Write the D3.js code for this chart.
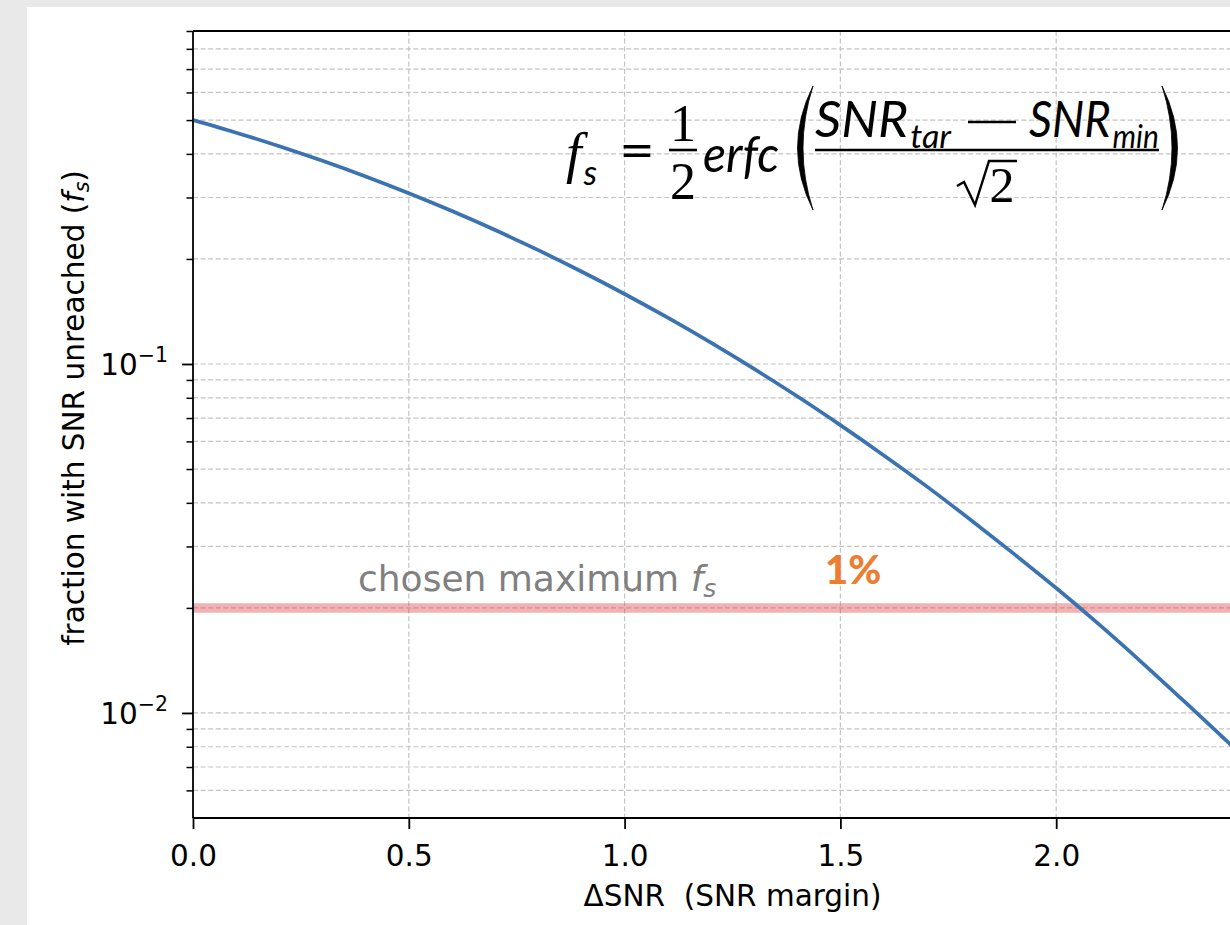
<!DOCTYPE html>
<html><head><meta charset="utf-8">
<script src="https://cdn.jsdelivr.net/npm/d3@7"></script>
<style>body{margin:0;background:#e9e9e9;} svg{display:block;}</style>
</head><body><svg id="c" width="1230" height="925"></svg>
<script>
// ---- data ----
const deltaSNR = [0.0,0.1,0.2,0.3,0.4,0.5,0.6,0.7,0.8,0.9,1.0,1.1,1.2,1.3,1.4,1.5,1.6,1.7,1.8,1.9,2.0,2.1,2.2,2.3,2.4,2.5];
const fsValues = [0.5,0.4602,0.4207,0.3821,0.3446,0.3085,0.2743,0.2420,0.2119,0.1841,0.1587,0.1357,0.1151,0.0968,0.0808,0.0668,0.0548,0.0446,0.0359,0.0287,0.0228,0.0179,0.0139,0.0107,0.0082,0.0062];
const xTicks = [0.0,0.5,1.0,1.5,2.0];
const xTickLabels = ["0.0","0.5","1.0","1.5","2.0"];
const yMajor = [0.1,0.01];
const yMajorExp = ["\u22121","\u22122"];
const yMinor = [0.006,0.007,0.008,0.009,0.02,0.03,0.04,0.05,0.06,0.07,0.08,0.09,0.2,0.3,0.4,0.5,0.6,0.7,0.8,0.9];
const maxFs = [0.02];
const xDomain = [0,2.5];
const yDomain = [0.005,0.9];

const svg = d3.select("#c");
svg.append("rect").attr("x",27).attr("y",7).attr("width",1203).attr("height",918).attr("fill","#ffffff");

const L=193, T=31, R=1272, B=818;
const x = d3.scaleLinear().domain(xDomain).range([L,R]);
const y = d3.scaleLog().domain(yDomain).range([B,T]);

const defs = svg.append("defs");
defs.append("clipPath").attr("id","clip").append("rect").attr("x",L).attr("y",T).attr("width",R-L).attr("height",B-T);

const plot = svg.append("g").attr("clip-path","url(#clip)");
const gridStyle = g => g.attr("stroke","#c4c4c4").attr("stroke-width",1.2).attr("stroke-dasharray","5,2.6").attr("fill","none");

// horizontal grid (major + minor)
plot.append("g").selectAll("line").data(yMajor.concat(yMinor)).join("line")
  .attr("x1",L).attr("x2",R).attr("y1",d=>y(d)).attr("y2",d=>y(d)).call(gridStyle);
// vertical grid
plot.append("g").selectAll("line").data(xTicks).join("line")
  .attr("y1",T).attr("y2",B).attr("x1",d=>x(d)).attr("x2",d=>x(d)).call(gridStyle);

// chosen maximum band
plot.append("g").selectAll("line").data(maxFs).join("line")
  .attr("x1",L).attr("x2",R).attr("y1",d=>y(d)).attr("y2",d=>y(d))
  .attr("stroke","#e0474a").attr("stroke-opacity",0.42).attr("stroke-width",9.5);

// curve
const pts = deltaSNR.map((d,i)=>[d,fsValues[i]]);
plot.append("path").datum(pts)
  .attr("d", d3.line().x(d=>x(d[0])).y(d=>y(d[1])).curve(d3.curveMonotoneX))
  .attr("fill","none").attr("stroke","#3a73b0").attr("stroke-width",3.7);

// axes
const fontTick = "'DejaVu Sans', sans-serif";
const FS = 29.5;
const xAxis = d3.axisBottom(x).tickValues(xTicks).tickFormat((d,i)=>xTickLabels[i]).tickSize(11).tickPadding(10);
const gx = svg.append("g").attr("transform",`translate(0,${B})`).call(xAxis);
gx.select(".domain").remove();
gx.selectAll(".tick line").attr("stroke","#000").attr("stroke-width",1.8);
gx.selectAll(".tick text").attr("font-family",fontTick).attr("font-size",FS).attr("fill","#000").attr("dy",27);

const yAxisMajor = d3.axisLeft(y).tickValues(yMajor).tickFormat("").tickSize(11);
const gy = svg.append("g").attr("transform",`translate(${L},0)`).call(yAxisMajor);
gy.select(".domain").remove();
gy.selectAll(".tick line").attr("stroke","#000").attr("stroke-width",1.8);
const yAxisMinor = d3.axisLeft(y).tickValues(yMinor).tickFormat("").tickSize(6.5);
const gym = svg.append("g").attr("transform",`translate(${L},0)`).call(yAxisMinor);
gym.select(".domain").remove();
gym.selectAll(".tick line").attr("stroke","#000").attr("stroke-width",1.5);

// y tick labels 10^-n
const yl = svg.append("g").selectAll("text").data(yMajor).join("text")
  .attr("x",L-25).attr("y",d=>y(d)+11).attr("text-anchor","end")
  .attr("font-family",fontTick).attr("font-size",FS).attr("fill","#000");
yl.append("tspan").text("10");
yl.append("tspan").attr("font-size",20.5).attr("dy",-13).text((d,i)=>yMajorExp[i]);

// spines
svg.append("g").attr("stroke","#000").attr("stroke-width",1.8).attr("fill","none")
  .call(g=>{
    g.append("line").attr("x1",L).attr("x2",L).attr("y1",T).attr("y2",B);
    g.append("line").attr("x1",L).attr("x2",R).attr("y1",B).attr("y2",B);
    g.append("line").attr("x1",L).attr("x2",R).attr("y1",T).attr("y2",T);
  });

// axis labels
svg.append("text").attr("x",(L+R)/2).attr("y",906).attr("text-anchor","middle")
  .attr("font-family",fontTick).attr("font-size",FS).attr("fill","#000")
  .style("white-space","pre").text("\u0394SNR  (SNR margin)");

const ylab = svg.append("text").attr("transform","translate(84,408) rotate(-90)").attr("text-anchor","middle")
  .attr("font-family",fontTick).attr("font-size",FS).attr("fill","#000");
ylab.append("tspan").text("fraction with SNR unreached (");
ylab.append("tspan").attr("font-style","italic").text("f");
ylab.append("tspan").attr("font-style","italic").attr("font-size",20.5).attr("dy",5).text("s");
ylab.append("tspan").attr("dy",-5).text(")");

// annotation: chosen maximum f_s
const ann = svg.append("text").attr("x",358).attr("y",591)
  .attr("font-family",fontTick).attr("font-size",36).attr("fill","#808080");
ann.append("tspan").text("chosen maximum ");
ann.append("tspan").attr("font-style","italic").text("f");
ann.append("tspan").attr("font-style","italic").attr("font-size",25).attr("dy",6).text("s");

svg.append("text").attr("x",825).attr("y",584)
  .attr("font-family","Lato, sans-serif").attr("font-weight","900").attr("font-size",40)
  .attr("fill","#ed7d31").text("1%");

// equation
const eq = svg.append("g").attr("fill","#000");
function t(xp, yp, s, o){
  const e = eq.append("text").attr("x",xp).attr("y",yp).text(s)
    .attr("font-family",o.ff||"Lato, sans-serif").attr("font-size",o.fs||46)
    .attr("font-style",o.it===false?"normal":"italic");
  if(o.len){ e.attr("textLength",o.len).attr("lengthAdjust","spacingAndGlyphs"); }
  if(o.anchor){ e.attr("text-anchor",o.anchor); }
  return e;
}
// a symbol with subscript, optionally squeezed to a target width
function sub(xp, yp, main, subs, fsMain, fsSub, dy, dx, width, ffMain){
  const g = eq.append("g");
  const e = g.append("text").attr("x",0).attr("y",0)
    .attr("font-family","Lato, sans-serif").attr("font-style","italic").attr("font-size",fsMain);
  e.append("tspan").attr("font-family",ffMain||"Lato, sans-serif").text(main);
  e.append("tspan").attr("font-size",fsSub).attr("dy",dy).attr("dx",dx).text(subs);
  const w = e.node().getComputedTextLength();
  const sx = width ? width/w : 1;
  g.attr("transform",`translate(${xp},${yp}) scale(${sx},1)`);
}
sub(566,172,"f","s",56,34,13,2,null,"'Liberation Serif', serif");
t(619,168,"=",{it:false,fs:50,len:36});
t(683,141,"1",{ff:"'Liberation Serif', serif",fs:52,it:false,anchor:"middle"});
t(683,199,"2",{ff:"'Liberation Serif', serif",fs:52,it:false,anchor:"middle"});
eq.append("line").attr("x1",669).attr("x2",697).attr("y1",150).attr("y2",150).attr("stroke","#000").attr("stroke-width",2.6);
t(703,172,"erfc",{fs:50,len:76});
eq.append("path").attr("d","M813,86 Q782,148 813,210 Q793,148 813,86 Z").attr("stroke","#000").attr("stroke-width",0.8);
eq.append("path").attr("d","M1162,86 Q1193,148 1162,210 Q1182,148 1162,86 Z").attr("stroke","#000").attr("stroke-width",0.8);
sub(815,137,"SNR","tar",50,33,11,2,134);
eq.append("line").attr("x1",968).attr("x2",1016).attr("y1",122).attr("y2",122).attr("stroke","#000").attr("stroke-width",2.3);
sub(1029,137,"SNR","min",50,33,11,2,128);
eq.append("line").attr("x1",815).attr("x2",1159).attr("y1",150).attr("y2",150).attr("stroke","#000").attr("stroke-width",2.6);
eq.append("path").attr("d","M957,186 L964,182 L975,205 L989,161 L1017,161").attr("fill","none").attr("stroke","#000").attr("stroke-width",2.4);
t(1002,202,"2",{ff:"'Liberation Serif', serif",fs:50,it:false,anchor:"middle"});
</script></body></html>
